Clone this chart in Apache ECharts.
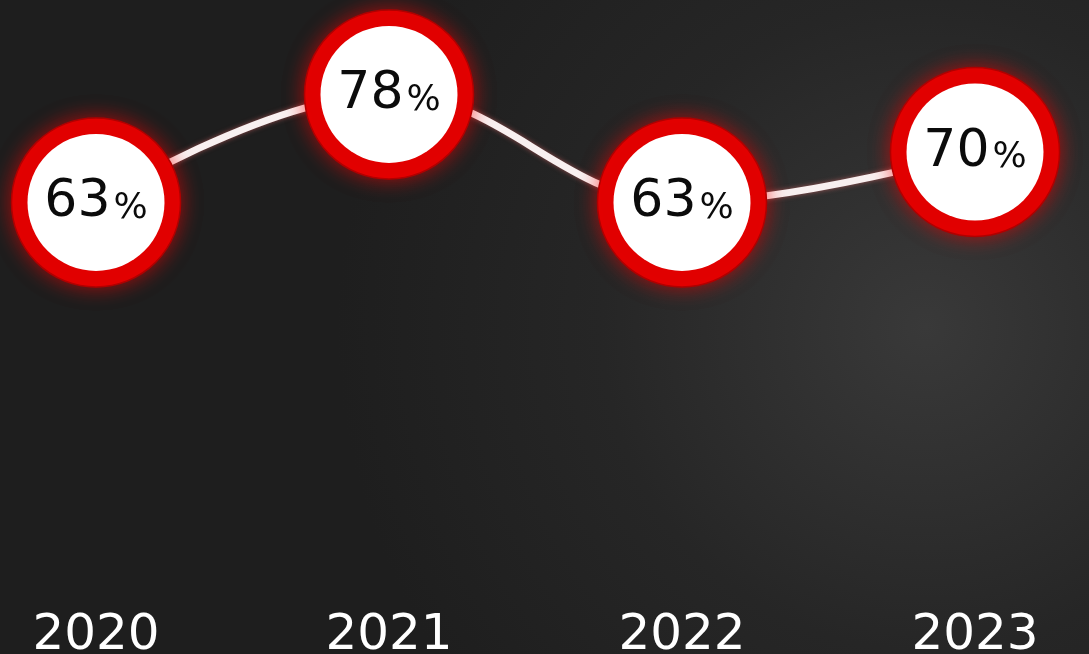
<!DOCTYPE html>
<html>
<head>
<meta charset="utf-8">
<script src="https://cdn.jsdelivr.net/npm/echarts@6/dist/echarts.min.js"></script>
<style>
  html, body { margin: 0; padding: 0; background: #222; }
  #chart { width: 1089px; height: 654px; }
</style>
</head>
<body>
<div id="chart"></div>
<script>
// yearly share, one ringed bubble per year over a smooth white line
const years = ['2020', '2021', '2022', '2023']
const shares = [63, 78, 63, 70]

const RED = '#e10000'
const FONT = 'DejaVu Sans'

const chart = echarts.init(document.getElementById('chart'))

chart.setOption({
  animation: false,
  backgroundColor: {
    type: 'radial', x: 0.85, y: 0.5, r: 0.9,
    colorStops: [
      { offset: 0, color: '#393939' },
      { offset: 0.55, color: '#262626' },
      { offset: 1, color: '#1e1e1e' },
    ],
  },
  // fixed grid: year labels are allowed to touch the bottom edge
  grid: { left: 96, right: 114, top: 8, bottom: 70, outerBoundsMode: 'none' },
  xAxis: {
    type: 'category',
    data: years,
    boundaryGap: false,
    axisLine: { show: false },
    axisTick: { show: false },
    axisLabel: { color: '#ffffff', fontFamily: FONT, fontSize: 50, margin: 27 },
  },
  yAxis: {
    type: 'value',
    min: 10,
    max: 90,
    show: false,
    splitLine: { show: false },
  },
  series: [
    {
      // line + red ring with its glow
      type: 'line',
      data: shares,
      smooth: 0.4,
      symbol: 'circle',
      symbolSize: 169,
      lineStyle: {
        color: '#f8f0f0',
        width: 7,
        shadowColor: 'rgba(255,120,120,0.5)',
        shadowBlur: 5,
      },
      itemStyle: {
        color: RED,
        borderColor: '#b00000',
        borderWidth: 1.5,
        shadowColor: 'rgba(255,0,0,0.6)',
        shadowBlur: 20,
      },
      emphasis: { disabled: true },
      z: 2,
    },
    {
      // white face on top, carries the label
      type: 'scatter',
      data: shares,
      symbol: 'circle',
      symbolSize: 137,
      itemStyle: { color: '#ffffff', opacity: 1 },
      label: {
        show: true,
        position: 'inside',
        formatter: (p) => '{n|' + p.value + '}{p|%}',
        rich: {
          n: { fontFamily: FONT, fontSize: 52, color: '#0b0b0b', verticalAlign: 'bottom' },
          p: { fontFamily: FONT, fontSize: 36, color: '#0b0b0b', verticalAlign: 'bottom', padding: [0, 0, 2, 3] },
        },
      },
      emphasis: { disabled: true },
      z: 3,
    },
  ],
})
</script>
</body>
</html>
